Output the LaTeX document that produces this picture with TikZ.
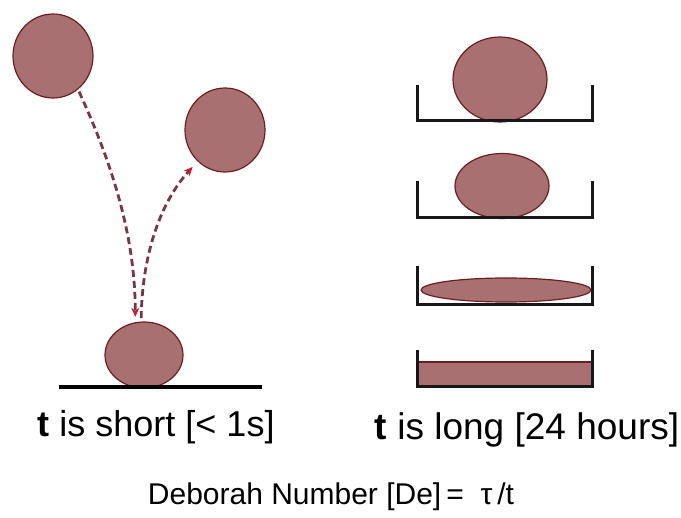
\documentclass[tikz,border=0pt]{standalone}
\usepackage{fontspec}
\setmainfont{Liberation Sans}
\usetikzlibrary{shapes.geometric,arrows.meta}

\newlength{\du}
\setlength{\du}{1pt}

\definecolor{ballfillcolor}{rgb}{0.659,0.439,0.439}
\definecolor{balllinecolor}{rgb}{0.431,0.118,0.118}
\definecolor{pathcolor}{rgb}{0.478,0.212,0.259}
\definecolor{tipcolor}{rgb}{0.780,0.110,0.176}
\definecolor{traycolor}{rgb}{0.090,0.090,0.090}

\tikzset{
  ball/.style={ellipse,draw=balllinecolor,fill=ballfillcolor,line width=1.2\du,inner sep=0pt,outer sep=0pt},
  puddle/.style={rectangle,draw=balllinecolor,fill=ballfillcolor,line width=1.2\du,inner sep=0pt,outer sep=0pt},
  bounce/.style={draw=pathcolor,line width=2.8\du,dash pattern=on 7\du off 4\du,
    -{Stealth[length=9pt,width=8pt,color=tipcolor,fill=tipcolor]}},
  tray/.style={draw=traycolor,line width=3\du,line cap=rect,line join=miter},
  caption/.style={anchor=base,inner sep=0pt,outer sep=0pt,text=black}
}

\begin{document}
\begin{tikzpicture}
\pgftransformxscale{1.000000}
\pgftransformyscale{-1.000000}
\useasboundingbox (0\du,0\du) rectangle (681\du,518\du);
% short time: the ball bounces back
\node[ball,minimum width=80\du,minimum height=84\du] (dropball) at (53\du,56\du){};
\node[ball,minimum width=80\du,minimum height=84\du] (reboundball) at (225\du,130\du){};
\node[ball,minimum width=78\du,minimum height=66\du] (groundball) at (144\du,355\du){};
\draw[line width=4\du,draw=black] (59\du,387\du)--(262\du,387\du);
\draw[bounce,shorten <=3pt,shorten >=6pt] (dropball.-53) .. controls (115\du,170\du) and (135\du,240\du) .. (groundball.105);
\draw[bounce,shorten <=4pt,shorten >=8pt] (groundball.95) .. controls (142\du,260\du) and (158\du,205\du) .. (reboundball.229);
% long time: the ball flows out in its tray
\node[ball,minimum width=94\du,minimum height=85\du] (ballone) at (500\du,79.5\du){};
\draw[tray] (417\du,87\du)--(417\du,121\du)--(592\du,121\du)--(592\du,87\du);
\node[ball,minimum width=94\du,minimum height=65\du] (balltwo) at (502\du,186\du){};
\draw[tray] (417\du,183\du)--(417\du,218\du)--(592\du,218\du)--(592\du,183\du);
\node[ball,minimum width=170\du,minimum height=24\du] (ballthree) at (506\du,290\du){};
\draw[tray] (417\du,268\du)--(417\du,305\du)--(592\du,305\du)--(592\du,268\du);
\node[puddle,minimum width=175\du,minimum height=25\du] (ballfour) at (504.5\du,374.5\du){};
\draw[tray] (417\du,352\du)--(417\du,387\du)--(592\du,387\du)--(592\du,352\du);
% setfont left to latex
\node[caption] (shortlabel) at (156\du,437\du){\fontsize{36}{42}\selectfont\textbf{t} is short [< 1s]};
\node[caption] (longlabel) at (527\du,440\du){\fontsize{37}{44}\selectfont\textbf{t} is long [24 hours]};
\node[caption] (deborahlabel) at (331\du,505\du){\fontsize{30}{36}\selectfont Deborah Number [De]\,=\ \ τ\,/t};
\end{tikzpicture}
\end{document}
